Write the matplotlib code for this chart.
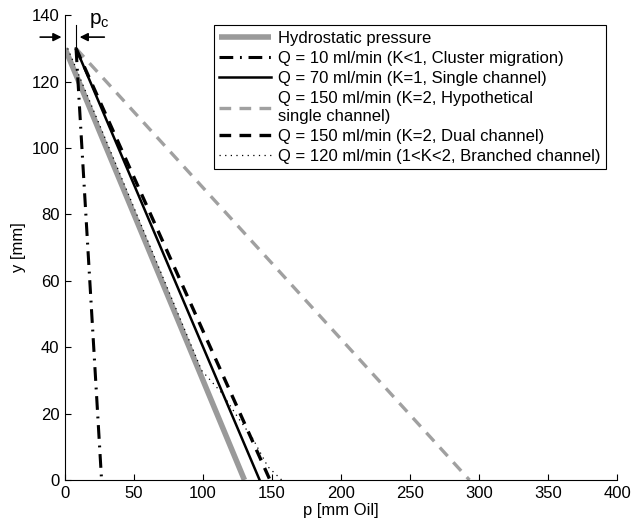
import matplotlib
matplotlib.use("Agg")
import matplotlib.pyplot as plt

plt.rcParams["font.family"] = ["Liberation Sans", "DejaVu Sans"]
plt.rcParams["font.size"] = 12

# pressure profiles: p [mm Oil] against height y [mm]
hydro_p = [0, 130]
hydro_y = [130, 0]

q10_p = [8, 26.5]
q10_y = [130, 0]

q70_p = [8, 141]
q70_y = [130, 0]

q150_hyp_p = [8, 293]
q150_hyp_y = [130, 0]

q150_dual_p = [8, 148.5]
q150_dual_y = [130, 0]

q120_p = [2, 99, 114, 125, 136, 147, 157]
q120_y = [130, 33, 26, 19, 12.5, 4, 0]

labels = [
    "Hydrostatic pressure",
    "Q = 10 ml/min (K<1, Cluster migration)",
    "Q = 70 ml/min (K=1, Single channel)",
    "Q = 150 ml/min (K=2, Hypothetical\nsingle channel)",
    "Q = 150 ml/min (K=2, Dual channel)",
    "Q = 120 ml/min (1<K<2, Branched channel)",
]

p_c = 8

fig = plt.figure(figsize=(6.31, 5.24), dpi=100)
ax = fig.add_axes([0.103, 0.084, 0.875, 0.887])

ax.plot(hydro_p, hydro_y, color="#9a9a9a", lw=4, solid_capstyle="butt", label=labels[0])
ax.plot(q10_p, q10_y, color="black", lw=2.2, linestyle=(0, (4.5, 2.2, 0.6, 2.2)), label=labels[1])
ax.plot(q70_p, q70_y, color="black", lw=1.8, label=labels[2])
ax.plot(q150_hyp_p, q150_hyp_y, color="#a0a0a0", lw=2.4, linestyle=(0, (3.5, 2.5)), label=labels[3])
ax.plot(q150_dual_p, q150_dual_y, color="black", lw=2.4, linestyle=(0, (3.5, 2.5)), label=labels[4])
ax.plot(q120_p, q120_y, color="black", lw=0.9, linestyle=(0, (1, 3.5)), label=labels[5])

ax.set_xlim(0, 400)
ax.set_ylim(0, 140)
ax.set_xticks(range(0, 401, 50))
ax.set_yticks(range(0, 141, 20))
ax.tick_params(direction="in", length=4, width=0.8, labelsize=12, pad=4)
ax.spines["top"].set_visible(False)
ax.spines["right"].set_visible(False)
ax.set_xlabel("p [mm Oil]", fontsize=12, labelpad=2)
ax.set_ylabel("y [mm]", fontsize=12, labelpad=4)

# capillary entry pressure marker
ax.plot([p_c, p_c], [127.5, 137], color="black", lw=0.8, clip_on=False)
ax.annotate("", xy=(-0.5, 133.4), xytext=(-20, 133.4),
            arrowprops=dict(arrowstyle="-|>", color="black", lw=1.2, mutation_scale=12),
            annotation_clip=False)
ax.annotate("", xy=(p_c + 0.6, 133.4), xytext=(30.5, 133.4),
            arrowprops=dict(arrowstyle="-|>", color="black", lw=1.2, mutation_scale=12),
            annotation_clip=False)
ax.text(25, 138.3, r"p$_\mathregular{c}$", fontsize=15, ha="center", va="center")

leg = ax.legend(loc="upper right", bbox_to_anchor=(0.98, 0.978), borderaxespad=0,
                frameon=True, fancybox=False, framealpha=1, edgecolor="black",
                handlelength=3.1, handletextpad=0.4, labelspacing=0.3,
                borderpad=0.35, fontsize=12)
leg.get_frame().set_linewidth(0.8)

fig.savefig("out.png", dpi=100)
